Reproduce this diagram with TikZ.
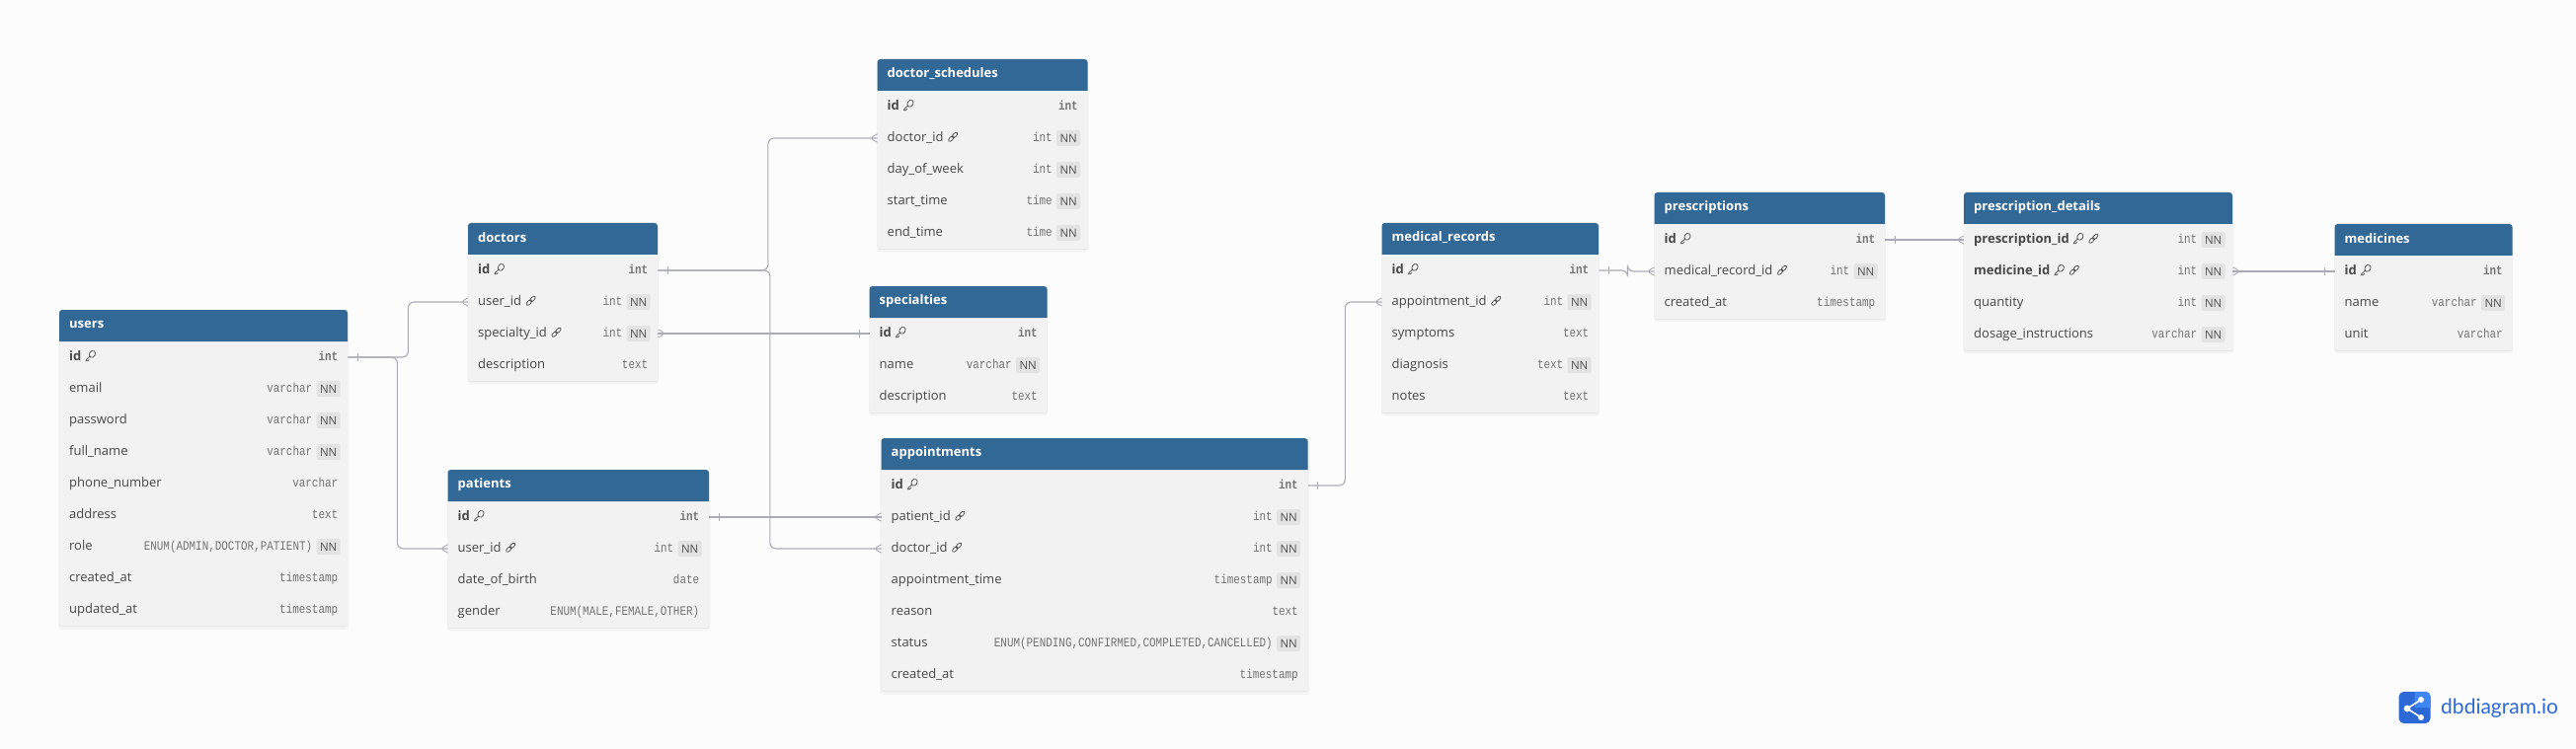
\documentclass[tikz,border=0pt]{standalone}
\usepackage{fontspec}
\usepackage{xcolor}
\setmainfont{Open Sans}
\newfontfamily\typefont[FakeStretch=0.84]{Liberation Mono}
\newfontfamily\logofont{Lato}
\usetikzlibrary{positioning, shadows, decorations.markings}

\definecolor{pagebg}{HTML}{FCFCFC}
\definecolor{headblue}{HTML}{316896}
\definecolor{bodygray}{HTML}{F2F2F2}
\definecolor{nngray}{HTML}{E3E3E3}
\definecolor{relgray}{HTML}{ABABB5}
\definecolor{logodark}{HTML}{2C69D6}
\definecolor{logolight}{HTML}{3F86F5}

% small glyphs behind a field name
\newcommand{\pkmark}{\,\,\tikz[baseline=-0.5pt,x=1pt,y=1pt]{\draw[iconline] (6.8,6.4) ellipse[x radius=3.6,y radius=2.9,rotate=60] (4.4,4.2) -- (0.6,0.6) -- (0.4,-0.6) -- (2.2,-0.6) -- (3.6,0.9);}}
\newcommand{\fkmark}{\,\,\tikz[baseline=-0.5pt,x=1pt,y=1pt]{\draw[iconline] (2.9,2.6) ellipse[x radius=3.4,y radius=1.8,rotate=45] (6.6,6.3) ellipse[x radius=3.4,y radius=1.8,rotate=45];}}

% key, label, left, top, width, number of rows, rows (field/type/not null)
\newcommand{\dbtable}[7]{
  \node[tablecard, minimum width=#5pt, minimum height={(#6+1)*32pt}] (#1) at (#3,#4) {};
  \fill[headblue] (#3,{#4+32}) -- (#3,{#4+10}) [rounded corners=3pt] -- (#3,#4) -- ({#3+#5},#4) -- ({#3+#5},{#4+10}) [sharp corners] -- ({#3+#5},{#4+32}) -- cycle;
  \node[tablehead] (#1-head) at (#3,{#4+15}) {#2};
  \foreach [count=\i] \fname/\ftype/\fnn in {#7} {
    \pgfmathsetmacro\rowy{#4+32+32*(\i-0.5)}
    \node[tablerow, minimum width=#5pt, text width=#5pt-20pt] (#1-\i) at (#3,\rowy) {\fname};
    \ifnum\fnn=1
      \node[nnbox, left=7.5pt of #1-\i.east] (#1-\i-nn) {NN};
      \node[typelabel, left=36pt of #1-\i.east] (#1-\i-type) {\ftype};
    \else
      \node[typelabel, left=10pt of #1-\i.east] (#1-\i-type) {\ftype};
    \fi
  }
}

\tikzset{
  iconline/.style={draw=black!72, line width=0.7pt},
  tablecard/.style={anchor=north west, inner sep=0pt, rounded corners=3pt, fill=bodygray,
    drop shadow={shadow xshift=0pt, shadow yshift=-2.5pt, shadow scale=1.008, opacity=0.03, fill=black},
    drop shadow={shadow xshift=0pt, shadow yshift=-1pt, opacity=0.05, fill=black}},
  tablehead/.style={anchor=west, inner sep=0pt, xshift=10pt, text=white, font=\fontsize{13}{15}\selectfont\bfseries},
  tablerow/.style={anchor=west, inner xsep=10pt, inner ysep=0pt, minimum height=32pt, align=left,
    text height=10pt, text depth=2.6pt, text=black!72, font=\fontsize{13}{15}\selectfont},
  typelabel/.style={inner sep=0pt, text height=10pt, text depth=2.6pt, text=black!55, font=\typefont\fontsize{13}{15}\selectfont},
  nnbox/.style={inner sep=0pt, minimum width=24pt, minimum height=16pt, rounded corners=1.5pt, fill=nngray,
    text=black!68, font=\fontsize{11.5}{14}\selectfont},
  relline/.style={draw=relgray, line width=1.1pt, rounded corners=6pt},
  relmark/.style={draw=relgray, line width=0.9pt},
  onestart/.style={postaction={decorate, decoration={markings, mark=at position 10pt with {\draw[relmark] (0,-4pt) -- (0,4pt);}}}},
  oneend/.style={postaction={decorate, decoration={markings, mark=at position -10pt with {\draw[relmark] (0,-4pt) -- (0,4pt);}}}},
  crowstart/.style={postaction={decorate, decoration={markings, mark=at position 8.5pt with {\draw[relmark] (-8.5pt,-4pt) -- (0,0) -- (-8.5pt,4pt);}}}},
  crowend/.style={postaction={decorate, decoration={markings, mark=at position -8.5pt with {\draw[relmark] (8.5pt,-4pt) -- (0,0) -- (8.5pt,4pt);}}}}
}

\begin{document}
\begin{tikzpicture}[x=1pt, y=-1pt]
\useasboundingbox (0,0) rectangle (2609,759);
\fill[pagebg] (0,0) rectangle (2609,759);

\dbtable{users}{users}{60}{314}{292}{9}{
  \textbf{id}\pkmark/\textbf{int}/0, email/varchar/1, password/varchar/1, full\_name/varchar/1,
  phone\_number/varchar/0, address/text/0, role/{ENUM(ADMIN,DOCTOR,PATIENT)}/1,
  created\_at/timestamp/0, updated\_at/timestamp/0}
\dbtable{doctors}{doctors}{474}{226}{192}{4}{
  \textbf{id}\pkmark/\textbf{int}/0, user\_id\fkmark/int/1, specialty\_id\fkmark/int/1, description/text/0}
\dbtable{patients}{patients}{453.5}{476}{264.5}{4}{
  \textbf{id}\pkmark/\textbf{int}/0, user\_id\fkmark/int/1, date\_of\_birth/date/0,
  gender/{ENUM(MALE,FEMALE,OTHER)}/0}
\dbtable{docsched}{doctor\_schedules}{888.5}{60}{213}{5}{
  \textbf{id}\pkmark/\textbf{int}/0, doctor\_id\fkmark/int/1, day\_of\_week/int/1, start\_time/time/1, end\_time/time/1}
\dbtable{specialties}{specialties}{880.5}{290}{180}{3}{
  \textbf{id}\pkmark/\textbf{int}/0, name/varchar/1, description/text/0}
\dbtable{appts}{appointments}{892.5}{444}{432}{7}{
  \textbf{id}\pkmark/\textbf{int}/0, patient\_id\fkmark/int/1, doctor\_id\fkmark/int/1,
  appointment\_time/timestamp/1, reason/text/0,
  status/{ENUM(PENDING,CONFIRMED,COMPLETED,CANCELLED)}/1, created\_at/timestamp/0}
\dbtable{medrec}{medical\_records}{1399.5}{226}{219.5}{5}{
  \textbf{id}\pkmark/\textbf{int}/0, appointment\_id\fkmark/int/1, symptoms/text/0, diagnosis/text/1, notes/text/0}
\dbtable{presc}{prescriptions}{1675.5}{195}{233.5}{3}{
  \textbf{id}\pkmark/\textbf{int}/0, medical\_record\_id\fkmark/int/1, created\_at/timestamp/0}
\dbtable{prescdet}{prescription\_details}{1989}{195}{272}{4}{
  \textbf{prescription\_id}\pkmark\fkmark/int/1, \textbf{medicine\_id}\pkmark\fkmark/int/1,
  quantity/int/1, dosage\_instructions/varchar/1}
\dbtable{medicines}{medicines}{2364.5}{227}{180}{3}{
  \textbf{id}\pkmark/\textbf{int}/0, name/varchar/1, unit/varchar/0}

\draw[relline, onestart, crowend] (users-1.east) -- ++(61,0) |- (doctors-2.west);
\draw[relline, onestart, crowend] (users-1.east) -- ++(50,0) |- (patients-2.west);
\draw[relline, onestart, crowend] (doctors-1.east) -- ++(111.5,0) |- (docsched-2.west);
\draw[relline, onestart, crowend] (doctors-1.east) -- ++(113.5,0) |- (appts-3.west);
\draw[relline, crowstart, oneend] (doctors-3.east) -- (specialties-1.west);
\draw[relline, onestart, crowend] (patients-1.east) -- (appts-2.west);
\draw[relline, onestart, crowend] (appts-1.east) -- ++(37.5,0) |- (medrec-2.west);
\draw[relline, onestart, crowend] (medrec-1.east) -- ++(29,0) |- (presc-2.west);
\draw[relline, onestart, crowend] (presc-1.east) -- (prescdet-1.west);
\draw[relline, crowstart, oneend] (prescdet-2.east) -- (medicines-1.west);

\node[minimum size=32pt, inner sep=0pt, rounded corners=5pt, fill=logodark] (logomark) at (2445.5,717) {};
\fill[logolight] (logomark.north) -- (2450,701) [rounded corners=5pt] -- (logomark.north east) -- (2461.5,712) [sharp corners] -- (logomark.east) -- (logomark.center) -- cycle;
\draw[white, line width=1.6pt] (2452,709) -- (2438,718) -- (2452,727);
\fill[white] (2452,709) circle[radius=3] (2438,718) circle[radius=3.4] (2452,727) circle[radius=3];
\node[anchor=west, inner sep=0pt, text=logodark, font=\logofont\fontsize{21}{24}\selectfont] (logotext) at (2472,718) {dbdiagram.io};
\end{tikzpicture}
\end{document}
